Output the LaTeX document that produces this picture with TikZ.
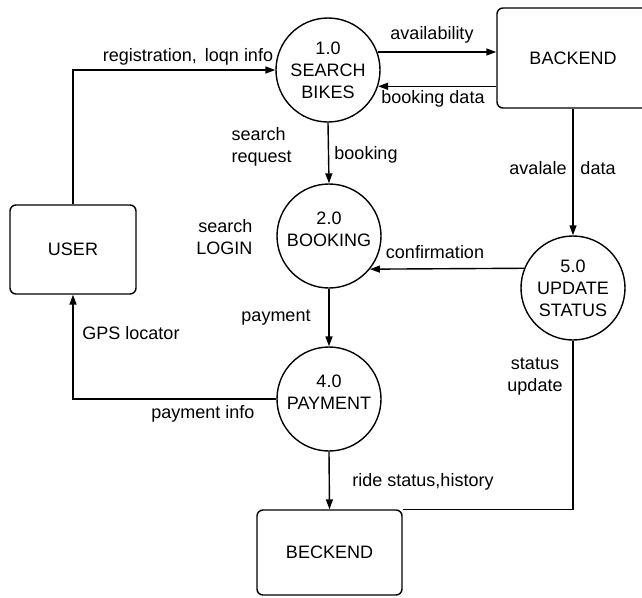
\documentclass[tikz,border=0pt]{standalone}
\usepackage{fontspec}
\setmainfont{Liberation Sans}
\usetikzlibrary{arrows.meta}

\begin{document}
\begin{tikzpicture}[x=1pt,y=-1pt,line width=1.4pt,
        font=\fontsize{18}{22}\selectfont,
        proc/.style={shape=circle,draw=black,minimum size=104pt,inner sep=0pt,align=center},
        ext/.style={shape=rectangle,draw=black,rounded corners=6pt,align=center},
        flow/.style={-{Triangle[length=10pt,width=7pt]}},
        lbl/.style={inner sep=0pt,align=center}]
            \useasboundingbox (0,0) rectangle (642,597);

            \node[proc] (S) at (328, 70) {1.0\\SEARCH\\BIKES};
            \node[proc] (B) at (329, 236) {2.0\\BOOKING\\[-8pt]\mbox{}};
            \node[proc] (P) at (329, 399) {4.0\\PAYMENT\\[-8pt]\mbox{}};
            \node[proc] (U5) at (573, 288) {5.0\\UPDATE\\STATUS};
            \node[ext,minimum width=152pt,minimum height=100pt] (BK) at (573, 58) {BACKEND};
            \node[ext,minimum width=126pt,minimum height=89pt] (U) at (73, 249.5) {USER};
            \node[ext,minimum width=145pt,minimum height=85pt] (BE) at (329.5, 552.5) {BECKEND};

            \draw[flow] (U.north) |- (S.west);
            \draw[flow] (S.20) -- (BK.west |- S.20);
            \draw[flow] (BK.west |- S.-18) -- (S.-18);
            \draw[flow] (S.south) -- (B.north);
            \draw[flow] (BK.south) -- (U5.north);
            \draw[flow] (U5.158) -- (B.-39);
            \draw[flow] (B.south) -- (P.north);
            \draw[flow] (P.west) -| (U.south);
            \draw[flow] (P.south) -- (BE.north);
            \draw (U5.south) |- (BE.north east);

            \node[lbl] (l1) at (188, 57) {registration,\, loqn info};
            \node[lbl] (l2) at (432, 35) {availability};
            \node[lbl] (l3) at (433, 99) {booking data};
            \node[lbl,align=left,anchor=west] (l4) at (231, 147) {search\\request};
            \node[lbl] (l5) at (366, 155) {booking};
            \node[lbl] (l6) at (538, 168) {avalale};
            \node[lbl] (l7) at (598, 168) {data};
            \node[lbl,align=right,anchor=east] (l8) at (253, 237) {search\\LOGIN};
            \node[lbl] (l9) at (435, 252) {confirmation};
            \node[lbl] (l10) at (276, 318) {payment};
            \node[lbl] (l11) at (131, 333) {GPS locator};
            \node[lbl] (l12) at (203, 414) {payment info};
            \node[lbl] (l13) at (535, 377) {status\\update};
            \node[lbl] (l14) at (423, 482) {ride status,history};
        \end{tikzpicture}
\end{document}
